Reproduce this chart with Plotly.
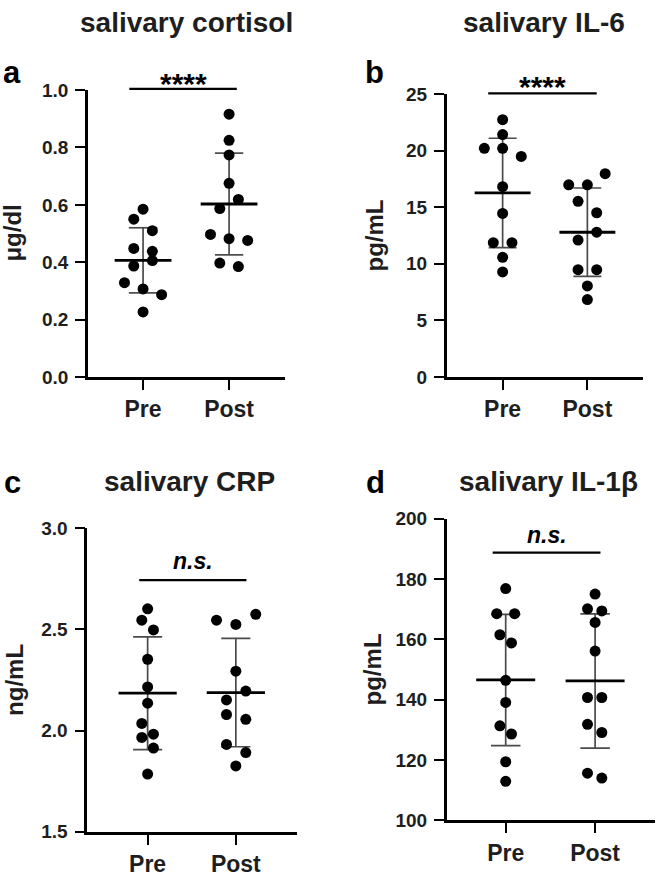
import numpy as np
import plotly.graph_objects as go

W, H = 657, 884

# ---------------- data ----------------
groups = ["Pre", "Post"]

cortisol_pre = [0.585, 0.55, 0.51, 0.448, 0.438, 0.406, 0.387, 0.329, 0.307, 0.287, 0.227]
cortisol_post = [0.916, 0.825, 0.774, 0.675, 0.619, 0.587, 0.497, 0.482, 0.476, 0.397, 0.385]

il6_pre = [22.73, 21.41, 20.2, 20.2, 19.48, 16.81, 14.45, 11.87, 11.87, 10.57, 9.28]
il6_post = [17.96, 16.98, 16.98, 15.52, 14.51, 12.79, 12.1, 9.48, 9.48, 8.05, 6.84]

crp_pre = [2.601, 2.545, 2.497, 2.352, 2.215, 2.135, 2.035, 1.966, 1.982, 1.913, 1.785]
crp_post = [2.574, 2.545, 2.524, 2.293, 2.195, 2.151, 2.079, 2.055, 1.931, 1.891, 1.825]

il1b_pre = [176.8, 168.5, 168.5, 161.5, 158.8, 146.4, 139.05, 131.3, 128.6, 119.4, 112.9]
il1b_post = [175.0, 170.1, 169.4, 165.6, 156.1, 140.7, 140.7, 131.8, 129.1, 115.6, 114.0]

significance = ["****", "****", "n.s.", "n.s."]
titles = ["salivary cortisol", "salivary IL-6", "salivary CRP", "salivary IL-1β"]
units = ["μg/dl", "pg/mL", "ng/mL", "pg/mL"]
letters = ["a", "b", "c", "d"]

# horizontal scatter (beeswarm) offsets of each dot, in category units
cortisol_pre_jit = [0, -0.108, 0.108, -0.108, 0.108, 0.108, -0.108, -0.216, 0, 0.216, 0]
cortisol_post_jit = [0, 0, 0, 0, 0.108, -0.108, -0.216, 0, 0.216, -0.108, 0.108]
il6_pre_jit = [0, 0, -0.216, 0, 0.22, 0, 0, -0.11, 0.11, 0, 0]
il6_post_jit = [0.21, -0.22, 0, -0.11, 0.11, 0.11, -0.11, -0.11, 0.11, 0, 0]
crp_pre_jit = [0, -0.066, 0.066, 0, 0, 0, -0.066, -0.066, 0.066, 0.066, 0]
crp_post_jit = [0.226, -0.219, 0, 0, 0.113, -0.106, -0.106, 0.113, -0.106, 0.113, 0]
il1b_pre_jit = [0, -0.1, 0.1, -0.065, 0.065, 0, 0, -0.065, 0.065, 0, 0]
il1b_post_jit = [0, -0.085, 0.075, 0, 0, -0.085, 0.075, -0.085, 0.075, -0.085, 0.075]

series = [
    (cortisol_pre, cortisol_post, cortisol_pre_jit, cortisol_post_jit),
    (il6_pre, il6_post, il6_pre_jit, il6_post_jit),
    (crp_pre, crp_post, crp_pre_jit, crp_post_jit),
    (il1b_pre, il1b_post, il1b_pre_jit, il1b_post_jit),
]

# ---------------- layout (pixels in the 657x884 picture) ----------------
panels = [
    dict(xpx=(88, 285), ypx=(82, 376), yrange=(0, 1.0), dtick=0.2, fmt=".1f",
         xrange=(-0.64, 1.65), sig_x=(-0.16, 1.09), sig_y=1.004, sig_text_dy=-6,
         ylab_x=13, letter_xy=(12, 64), title_xy=(186, 13)),
    dict(xpx=(446.7, 643.3), ypx=(86, 376), yrange=(0, 25), dtick=5, fmt="d",
         xrange=(-0.66, 1.66), sig_x=(-0.17, 1.11), sig_y=25.05, sig_text_dy=-7,
         ylab_x=375, letter_xy=(374, 64), title_xy=(544, 13)),
    dict(xpx=(87.3, 296.7), ypx=(530.7, 841.7), yrange=(1.5, 3.0), dtick=0.5, fmt=".1f",
         xrange=(-0.684, 1.69), sig_x=(-0.095, 1.12), sig_y=2.743, sig_text_dy=-20,
         ylab_x=15, letter_xy=(12, 484), title_xy=(189, 483)),
    dict(xpx=(446.7, 655), ypx=(521, 830), yrange=(100, 200), dtick=20, fmt="d",
         xrange=(-0.66, 1.67), sig_x=(-0.146, 1.06), sig_y=188.7, sig_text_dy=-18,
         ylab_x=372, letter_xy=(375, 484), title_xy=(548, 483)),
]

FONT = "Liberation Sans, Arial, sans-serif"
TXT = "#1e1e1e"
MEAN_HALF = 0.33
CAP_HALF = 0.165

fig = go.Figure()
shapes = []
annotations = []
layout_axes = {}


def px_to_paper_x(px):
    return px / W


def px_to_paper_y(py):
    return 1 - py / H


for i, (p, (pre, post, jpre, jpost)) in enumerate(zip(panels, series)):
    n = "" if i == 0 else str(i + 1)
    xa, ya = "x" + n, "y" + n
    vals = [np.array(pre), np.array(post)]
    jits = [np.array(jpre), np.array(jpost)]

    # SD error bars (vertical line + caps) and mean line
    ex, ey = [], []
    mx, my = [], []
    for g, v in enumerate(vals):
        m = v.mean()
        s = v.std(ddof=1)
        ex += [g, g, None, g - CAP_HALF, g + CAP_HALF, None, g - CAP_HALF, g + CAP_HALF, None]
        ey += [m - s, m + s, None, m + s, m + s, None, m - s, m - s, None]
        mx += [g - MEAN_HALF, g + MEAN_HALF, None]
        my += [m, m, None]
    fig.add_trace(go.Scatter(x=ex, y=ey, mode="lines", xaxis=xa, yaxis=ya,
                             line=dict(color="#4a4a4a", width=1.7),
                             showlegend=False, hoverinfo="skip"))
    fig.add_trace(go.Scatter(x=mx, y=my, mode="lines", xaxis=xa, yaxis=ya,
                             line=dict(color="black", width=2.8),
                             showlegend=False, hoverinfo="skip"))

    # dots (drawn on top of the bars)
    for g, (v, j) in enumerate(zip(vals, jits)):
        fig.add_trace(go.Scatter(
            x=g + j, y=v, mode="markers", xaxis=xa, yaxis=ya,
            marker=dict(size=11, color="black"), cliponaxis=False,
            showlegend=False, hoverinfo="y"))

    xd = [px_to_paper_x(p["xpx"][0]), px_to_paper_x(p["xpx"][1])]
    yd = [px_to_paper_y(p["ypx"][1]), px_to_paper_y(p["ypx"][0])]

    layout_axes["xaxis" + n] = dict(
        domain=xd, range=list(p["xrange"]), anchor=ya,
        tickvals=[0, 1], ticktext=groups, ticks="outside", ticklen=10,
        tickwidth=2.4, tickcolor="black", showline=True, linewidth=2.6,
        linecolor="black", showgrid=False, zeroline=False,
        tickfont=dict(family=FONT, size=23, color=TXT, weight="bold"),
        fixedrange=True)
    layout_axes["yaxis" + n] = dict(
        domain=yd, range=list(p["yrange"]), anchor=xa,
        dtick=p["dtick"], tick0=p["yrange"][0], tickformat=p["fmt"],
        ticks="outside", ticklen=10, tickwidth=2.4, tickcolor="black",
        showline=True, linewidth=2.6, linecolor="black", showgrid=False,
        zeroline=False, ticklabelstandoff=3,
        tickfont=dict(family=FONT, size=19, color=TXT, weight="bold"),
        fixedrange=True)

    # helpers mapping data coordinates -> paper
    def dx(x, p=p, xd=xd):
        r0, r1 = p["xrange"]
        return xd[0] + (x - r0) / (r1 - r0) * (xd[1] - xd[0])

    def dy(y, p=p, yd=yd):
        r0, r1 = p["yrange"]
        return yd[0] + (y - r0) / (r1 - r0) * (yd[1] - yd[0])

    # significance bar
    sx0, sx1 = p["sig_x"]
    shapes.append(dict(type="line", xref="paper", yref="paper",
                       x0=dx(sx0), x1=dx(sx1), y0=dy(p["sig_y"]), y1=dy(p["sig_y"]),
                       line=dict(color="black", width=2.2)))
    sig = significance[i]
    is_ns = sig == "n.s."
    annotations.append(dict(
        xref="paper", yref="paper", x=dx((sx0 + sx1) / 2),
        y=dy(p["sig_y"]) - p["sig_text_dy"] / H,
        text=sig, showarrow=False, xanchor="center", yanchor="middle",
        font=dict(family=FONT, size=23 if is_ns else 30, color="black",
                  weight="bold", style="italic" if is_ns else "normal")))

    # y-axis title
    annotations.append(dict(
        xref="paper", yref="paper", x=px_to_paper_x(p["ylab_x"]),
        y=(yd[0] + yd[1]) / 2, text=units[i], showarrow=False, textangle=-90,
        xanchor="center", yanchor="middle",
        font=dict(family=FONT, size=24, color=TXT, weight="bold")))

    # panel title
    annotations.append(dict(
        xref="paper", yref="paper", x=px_to_paper_x(p["title_xy"][0]),
        y=px_to_paper_y(p["title_xy"][1]), text=titles[i], showarrow=False,
        xanchor="center", yanchor="middle",
        font=dict(family=FONT, size=28, color=TXT, weight="bold")))

    # panel letter
    annotations.append(dict(
        xref="paper", yref="paper", x=px_to_paper_x(p["letter_xy"][0]),
        y=px_to_paper_y(p["letter_xy"][1]), text=letters[i], showarrow=False,
        xanchor="center", yanchor="middle",
        font=dict(family=FONT, size=31, color="black", weight="bold")))

fig.update_layout(
    width=W, height=H, margin=dict(l=0, r=0, t=0, b=0),
    paper_bgcolor="white", plot_bgcolor="white",
    shapes=shapes, annotations=annotations, showlegend=False,
    **layout_axes)

fig.write_html(
    "out.html", config={"displayModeBar": False},
    post_script="document.body.style.margin='0';document.body.style.overflow='hidden';")
